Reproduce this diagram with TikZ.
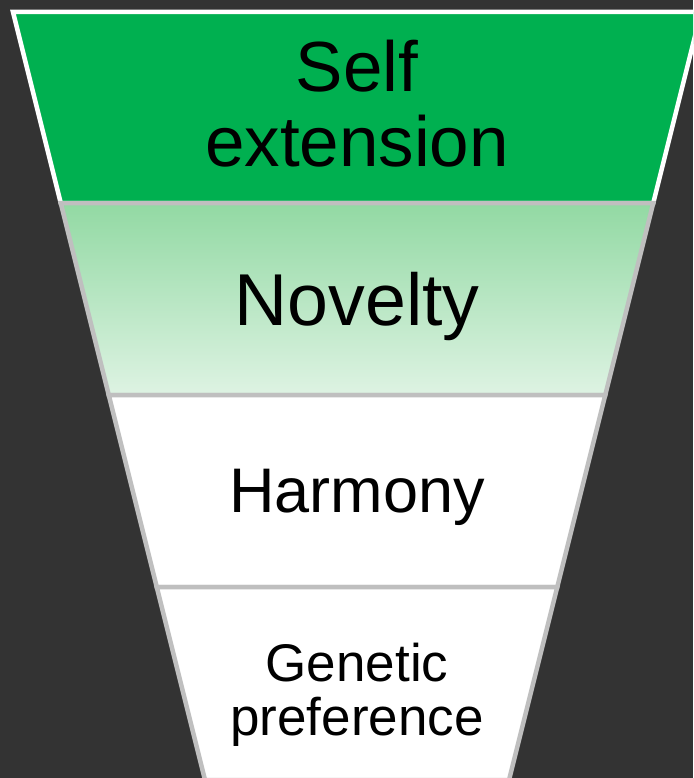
\documentclass[tikz,border=0pt]{standalone}
\usepackage{fontspec}
\setmainfont{Liberation Sans}
\usepackage{xcolor}
\definecolor{fondo}{HTML}{333333}
\definecolor{verde}{HTML}{00B050}
\definecolor{gris}{HTML}{BFBFBF}
\definecolor{verdeclaro}{RGB}{146,217,163}
\definecolor{verdepalido}{RGB}{222,243,227}

\begin{document}
\begin{tikzpicture}[x=1pt, y=-1pt, line join=miter,
  capa/.style={line width=4.5pt},
  rotulo/.style={inner sep=0pt, align=center, text=black}]
\useasboundingbox (0,0) rectangle (693,778);
\fill[fondo] (0,0) rectangle (693,778);
\clip (0,0) rectangle (693,778);
% Capa superior
\filldraw[capa, fill=verde, draw=white] (13,12) -- (701,12) -- (653.25,203) -- (60.75,203) -- cycle;
% Capa con degradado
\shade[top color=verdeclaro, bottom color=verdepalido] (60.75,203) -- (653.25,203) -- (605.25,395) -- (108.75,395) -- cycle;
\draw[capa, gris] (60.75,203) -- (653.25,203) -- (605.25,395) -- (108.75,395) -- cycle;
% Capas blancas
\filldraw[capa, fill=white, draw=gris] (108.75,395) -- (605.25,395) -- (557.25,587) -- (156.75,587) -- cycle;
\filldraw[capa, fill=white, draw=gris] (156.75,587) -- (557.25,587) -- (509,780) -- (205,780) -- cycle;
% Textos
\node[rotulo, anchor=north, font=\fontsize{71}{75}\selectfont] (self) at (357,40) {Self\\extension};
\node[rotulo, anchor=base, font=\fontsize{73.5}{78}\selectfont] (novelty) at (357,325) {Novelty};
\node[rotulo, anchor=base, font=\fontsize{63}{68}\selectfont] (harmony) at (357,512) {Harmony};
\node[rotulo, anchor=north, font=\fontsize{53}{54}\selectfont] (genetic) at (357,643) {Genetic\\preference};
\end{tikzpicture}
\end{document}
